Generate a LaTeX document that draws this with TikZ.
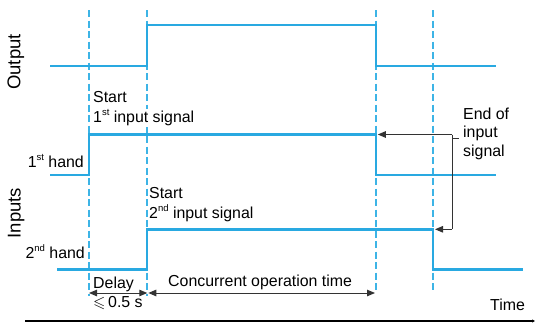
\documentclass[tikz,border=0pt]{standalone}
\usepackage{amssymb}
\usepackage{fontspec}
\setmainfont{Liberation Sans}
\usetikzlibrary{arrows.meta}
\definecolor{sig}{HTML}{29A9E1}
\definecolor{dsh}{HTML}{3DB4E6}
\definecolor{arr}{HTML}{333333}
\newcommand{\supx}[1]{\raisebox{0.42em}{\fontsize{9.5}{9.5}\selectfont #1}}
\tikzset{
  signal/.style={draw=sig, line width=2.9pt, line join=miter},
  guide/.style={draw=dsh, line width=1.1pt, dash pattern=on 7pt off 3.5pt},
  dim/.style={draw=arr, line width=1pt, {Triangle[length=8pt,width=6.5pt]}-{Triangle[length=8pt,width=6.5pt]}},
  lead/.style={draw=arr, line width=1pt, -{Triangle[length=8pt,width=6.5pt]}},
  lbl/.style={font=\fontsize{15.9}{18}\selectfont, inner sep=0pt, anchor=base west},
  lblr/.style={font=\fontsize{15.9}{18}\selectfont, inner sep=0pt, anchor=base east},
  ttl/.style={font=\fontsize{18.5}{22}\selectfont, inner sep=0pt, anchor=base, rotate=90},
}
\begin{document}
\begin{tikzpicture}[x=1pt,y=-1pt]
\useasboundingbox (0,0) rectangle (536,322);
% guide coordinates
\coordinate (g1t) at (89,10);  \coordinate (g1b) at (89,296);
\coordinate (g2t) at (147,10); \coordinate (g2b) at (147,296);
\coordinate (g3t) at (376,10); \coordinate (g3b) at (376,293);
\coordinate (g4t) at (433,10); \coordinate (g4b) at (433,293);
\draw[guide] (g1t) -- (g1b);
\draw[guide] (g2t) -- (g2b);
\draw[guide] (g3t) -- (g3b);
\draw[guide] (g4t) -- (g4b);
% labels that mask guides
\node[lbl, fill=white, inner ysep=1pt] (st1a) at (93,102.5) {Start};
\node[lbl, fill=white, inner ysep=1pt] (st1b) at (93,122.5) {1\supx{st} input signal};
\node[lbl] (st2a) at (149,198.5) {Start};
\node[lbl] (st2b) at (149,218.5) {2\supx{nd} input signal};
% signals
\draw[signal] (50,66) -- (147,66) -- (147,25) -- (376,25) -- (376,66) -- (496,66);
\draw[signal] (50,175) -- (89,175) -- (89,134.5) -- (376,134.5) -- (376,175) -- (496,175);
\draw[signal] (57,269.5) -- (147,269.5) -- (147,229.3) -- (433,229.3) -- (433,269.5) -- (523,269.5);
% titles
\node[ttl] (out) at (20.3,62) {Output};
\node[ttl] (inp) at (20.7,213) {Inputs};
\node[lblr] (h1) at (84,167.5) {1\supx{st} hand};
\node[lblr] (h2) at (85,258.5) {2\supx{nd} hand};
% dimension arrows
\coordinate (d1) at (89,293);
\coordinate (d2) at (147.3,293);
\coordinate (d3) at (148.3,293);
\coordinate (d4) at (375,293);
\draw[dim] (d1) -- (d2);
\draw[dim] (d3) -- (d4);
\node[lbl] (delay) at (93,288.5) {Delay};
\node[lbl] (lim) at (93,307.5) {$\leqslant$\,0.5 s};
\node[lbl] (conc) at (168,286) {Concurrent operation time};
% end of input signal
\node[lbl] (e1) at (463,119.5) {End of};
\node[lbl] (e2) at (463,137.5) {input};
\node[lbl] (e3) at (463,156) {signal};
\coordinate (bt) at (452,134.5);
\coordinate (bb) at (452,229.3);
\coordinate (a1) at (377.8,134.5);
\coordinate (a2) at (435,229.3);
\coordinate (tk1) at (452,138.3);
\coordinate (tk2) at (459,138.3);
\draw[lead] (bt) -- (a1);
\draw[lead] (bb) -- (a2);
\draw[draw=arr, line width=1pt] (bt) -- (bb);
\draw[draw=arr, line width=1pt] (tk1) -- (tk2);
% time axis
\coordinate (ax1) at (25,321);
\coordinate (ax2) at (535,321);
\draw[line width=1.2pt, -{Triangle[length=3pt,width=3pt]}] (ax1) -- (ax2);
\node[lbl] (time) at (490,310.7) {Time};
\end{tikzpicture}
\end{document}
